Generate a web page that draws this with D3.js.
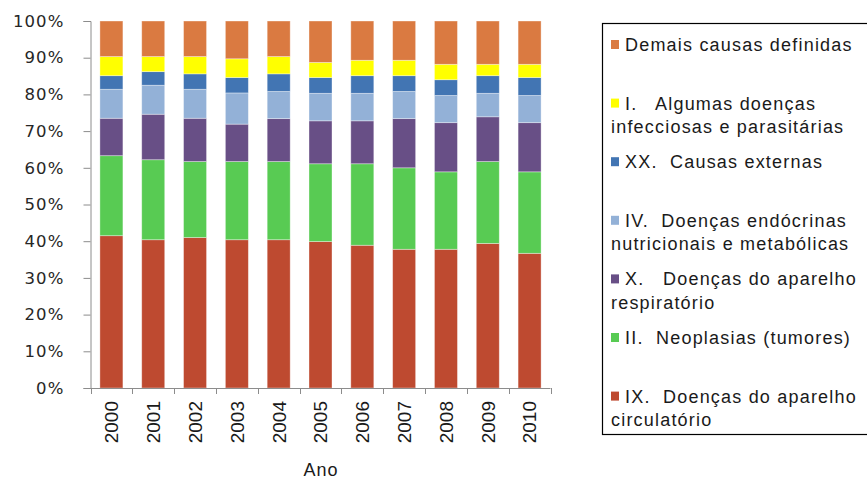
<!DOCTYPE html>
<html>
<head>
<meta charset="utf-8">
<script src="https://cdn.jsdelivr.net/npm/d3@7"></script>
<style>
  html, body { margin: 0; padding: 0; background: #fff; }
  svg { display: block; }
  text { white-space: pre; }
</style>
</head>
<body>
<svg id="chart" width="867" height="481"></svg>
<script>
// ---- data (percent of deaths by cause) ----
const years = ["2000","2001","2002","2003","2004","2005","2006","2007","2008","2009","2010"];
const circulatorio = [41.5, 40.4, 41.0, 40.4, 40.4, 39.9, 38.9, 37.8, 37.8, 39.4, 36.7];
const neoplasias   = [21.8, 21.8, 20.7, 21.3, 21.3, 21.2, 22.2, 22.2, 21.1, 22.3, 22.2];
const respiratorio = [10.2, 12.4, 11.8, 10.2, 11.7, 11.7, 11.7, 13.4, 13.4, 12.2, 13.4];
const endocrinas   = [7.9, 7.9, 7.9, 8.5, 7.4, 7.5, 7.5, 7.4, 7.4, 6.4, 7.4];
const externas     = [3.7, 3.7, 4.2, 4.2, 4.8, 4.3, 4.8, 4.3, 4.3, 4.8, 4.9];
const infecciosas  = [5.2, 4.1, 4.7, 5.1, 4.7, 4.1, 4.2, 4.2, 4.2, 3.1, 3.6];
const demais       = [9.7, 9.7, 9.7, 10.3, 9.7, 11.3, 10.7, 10.7, 11.8, 11.8, 11.8];

const seriesKeys = ["circulatorio","neoplasias","respiratorio","endocrinas","externas","infecciosas","demais"];
const seriesValues = [circulatorio, neoplasias, respiratorio, endocrinas, externas, infecciosas, demais];
const seriesLabels = [
  ["IX.  Doenças do aparelho", "circulatório"],
  ["II.  Neoplasias (tumores)"],
  ["X.   Doenças do aparelho", "respiratório"],
  ["IV.  Doenças endócrinas", "nutricionais e metabólicas"],
  ["XX.  Causas externas"],
  ["I.   Algumas doenças", "infecciosas e parasitárias"],
  ["Demais causas definidas"]
];
const seriesColors = ["#BE4A30", "#58CB53", "#684F86", "#93B1D7", "#4275B3", "#FFFF00", "#DA7A41"];
const yTickValues = [0, 0.1, 0.2, 0.3, 0.4, 0.5, 0.6, 0.7, 0.8, 0.9, 1.0];
const xTitle = "Ano";

// ---- build table ----
const table = years.map((yr, i) => {
  const row = { year: yr };
  seriesKeys.forEach((k, j) => row[k] = seriesValues[j][i]);
  return row;
});
const stacked = d3.stack().keys(seriesKeys).offset(d3.stackOffsetExpand)(table);

// ---- layout ----
const svg = d3.select("#chart");
const plotL = 90.5, plotR = 550.5, plotT = 21, plotB = 388;

const x = d3.scaleBand().domain(years).range([plotL, plotR]).paddingInner(0.45).paddingOuter(0.225);
const y = d3.scaleLinear().domain([0, 1]).range([plotB, plotT]);

// bars
svg.append("g").selectAll("g").data(stacked).join("g")
  .attr("fill", (d, i) => seriesColors[i])
  .selectAll("rect").data(d => d).join("rect")
  .attr("x", d => x(d.data.year))
  .attr("width", x.bandwidth())
  .attr("y", d => y(d[1]))
  .attr("height", d => y(d[0]) - y(d[1]))
  .attr("stroke", "rgba(255,255,255,0.45)")
  .attr("stroke-width", 0.8);

// y axis
const yAxis = svg.append("g").attr("transform", `translate(${plotL},0)`)
  .call(d3.axisLeft(y).tickValues(yTickValues).tickFormat(d3.format(".0%")).tickSize(7).tickPadding(19));
yAxis.select(".domain").attr("stroke", "#8c8c8c");
yAxis.selectAll(".tick line").attr("stroke", "#8c8c8c");
yAxis.selectAll(".tick text")
  .attr("font-family", "DejaVu Sans, Verdana, sans-serif")
  .attr("font-size", 16.5)
  .attr("letter-spacing", 1.1)
  .attr("fill", "#262626");

// x axis line with boundary ticks
const xg = svg.append("g");
xg.append("line").attr("x1", plotL).attr("x2", plotR).attr("y1", plotB + 0.5).attr("y2", plotB + 0.5)
  .attr("stroke", "#8c8c8c");
const step = x.step();
const bounds = d3.range(years.length + 1).map(i => plotL + i * step);
xg.selectAll("line.tk").data(bounds).join("line").attr("class", "tk")
  .attr("x1", d => Math.round(d) + 0.5).attr("x2", d => Math.round(d) + 0.5)
  .attr("y1", plotB).attr("y2", plotB + 6)
  .attr("stroke", "#8c8c8c");

// year labels
xg.selectAll("text.yr").data(years).join("text").attr("class", "yr")
  .attr("transform", d => `translate(${x(d) + x.bandwidth() / 2},401) rotate(-90)`)
  .attr("text-anchor", "end")
  .attr("dy", "0.36em")
  .attr("font-family", "Liberation Sans, Arial, sans-serif")
  .attr("font-size", 19)
  .attr("fill", "#1a1a1a")
  .text(d => d);

// x title
svg.append("text")
  .attr("x", 321).attr("y", 476)
  .attr("text-anchor", "middle")
  .attr("font-family", "Liberation Sans, Arial, sans-serif")
  .attr("font-size", 18)
  .attr("letter-spacing", 1)
  .attr("fill", "#1a1a1a")
  .text(xTitle);

// legend
const legend = svg.append("g");
legend.append("rect").attr("x", 602.5).attr("y", 23.5).attr("width", 300).attr("height", 411)
  .attr("fill", "#fff").attr("stroke", "#000").attr("stroke-width", 1.2);

const legendOrder = d3.range(seriesKeys.length).reverse();
legendOrder.forEach((si, k) => {
  const cy = 44.5 + k * 58.6;
  const lines = seriesLabels[si];
  legend.append("rect").attr("x", 611).attr("y", cy - 4.5).attr("width", 8).attr("height", 9)
    .attr("fill", seriesColors[si]);
  lines.forEach((ln, li) => {
    const tx = li === 0 ? 625 : 611;
    legend.append("text")
      .attr("x", tx).attr("y", cy + 6.5 + li * 23.5)
      .attr("font-family", "Liberation Sans, Arial, sans-serif")
      .attr("font-size", 18)
      .attr("letter-spacing", 1.2)
      .attr("fill", "#1a1a1a")
      .text(ln);
  });
});
</script>
</body>
</html>
